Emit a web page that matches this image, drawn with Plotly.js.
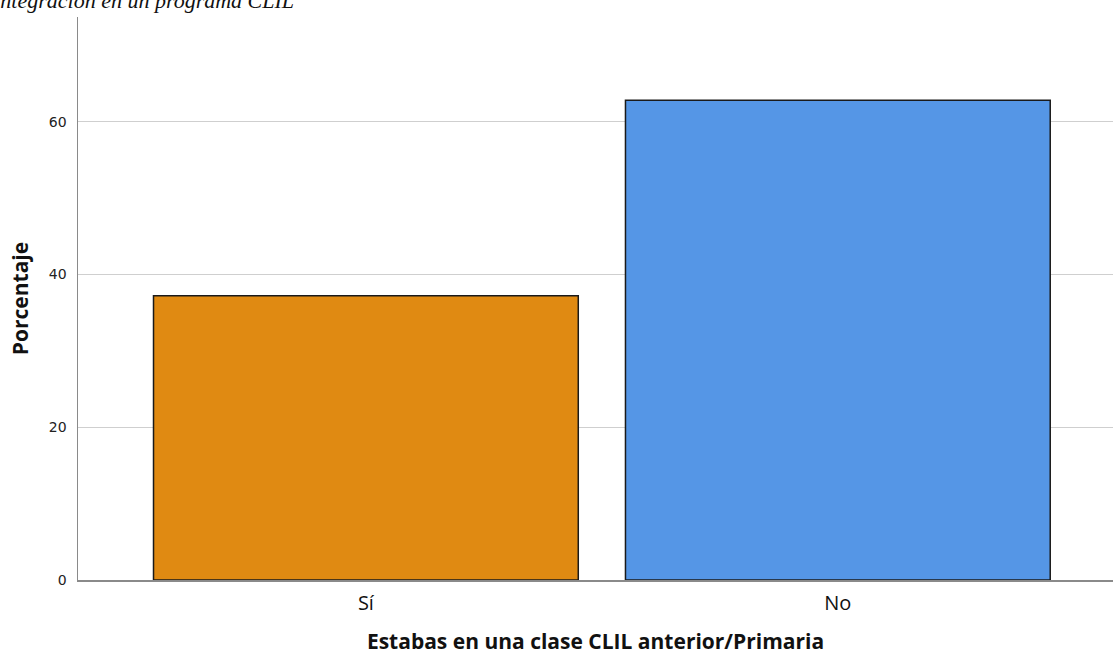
<!DOCTYPE html>
<html>
<head>
<meta charset="utf-8">
<script src="https://cdn.plot.ly/plotly-3.0.1.min.js"></script>
<style>html,body{margin:0;padding:0;background:#fff;}#chart{width:1113px;height:655px;}</style>
</head>
<body>
<div id="chart"></div>
<script>
const categories = ["Sí", "No"];
const percentages = [37.2, 62.8];
const barColors = ["#E08A12", "#5596E6"];
const yTicks = [0, 20, 40, 60];

const trace = {
  type: "bar",
  x: [0, 1],
  y: percentages,
  width: 0.9,
  marker: {color: barColors, line: {color: "#1a1a1a", width: 1.5}},
  hoverinfo: "skip"
};

const layout = {
  width: 1113, height: 655,
  margin: {l: 78, r: 0, t: 17, b: 75},
  paper_bgcolor: "#fff", plot_bgcolor: "#fff",
  showlegend: false,
  bargap: 0.1,
  xaxis: {
    range: [-0.61, 1.583],
    tickmode: "array", tickvals: [0, 1], ticktext: categories,
    showgrid: false, zeroline: false,
    showline: true, linecolor: "#8a8a8a", linewidth: 1.5,
    ticks: "", ticklen: 0, ticklabelstandoff: 4,
    tickfont: {family: "Open Sans, DejaVu Sans, sans-serif", size: 20, color: "#111"},
    title: {text: "Estabas en una clase CLIL anterior/Primaria", font: {family: "Open Sans, DejaVu Sans, sans-serif", size: 21, color: "#111", weight: "bold"}, standoff: 20}
  },
  yaxis: {
    range: [0, 73.7],
    tickmode: "array", tickvals: yTicks,
    showgrid: true, gridcolor: "#cfcfcf", gridwidth: 1.2,
    zeroline: false,
    showline: true, linecolor: "#8a8a8a", linewidth: 1.5,
    ticks: "", ticklabelstandoff: 7,
    tickfont: {family: "DejaVu Sans, sans-serif", size: 14, color: "#222"},
    title: {text: "Porcentaje", font: {family: "Open Sans, DejaVu Sans, sans-serif", size: 21, color: "#111", weight: "bold"}, standoff: 14}
  },
  annotations: [{
    text: "<i>Integración en un programa CLIL</i>",
    xref: "paper", yref: "paper",
    x: -0.085, y: 1.0036, xanchor: "left", yanchor: "bottom",
    showarrow: false,
    font: {family: "Liberation Serif, serif", size: 22, color: "#111"}
  }]
};

Plotly.newPlot("chart", [trace], layout, {displayModeBar: false, staticPlot: true});
</script>
</body>
</html>
